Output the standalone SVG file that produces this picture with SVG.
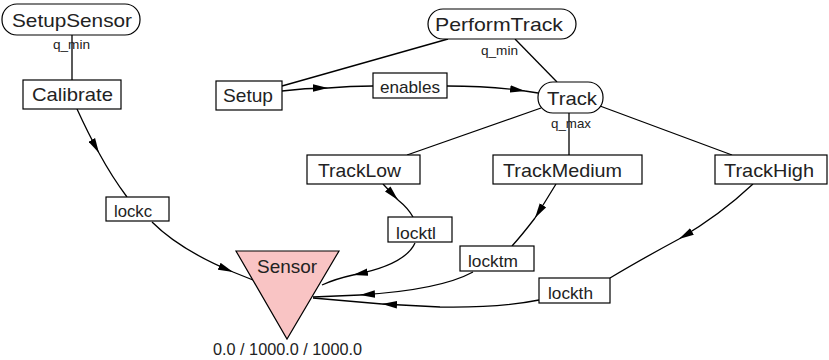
<svg xmlns="http://www.w3.org/2000/svg" width="829" height="360" viewBox="0 0 829 360">
<style>
.n{fill:#fff;stroke:#000;stroke-width:1.2}
.t{font-family:"Liberation Sans",Arial,sans-serif;font-size:19px;fill:#222}
.l{font-family:"Liberation Sans",Arial,sans-serif;font-size:17px;fill:#222}
.q{font-family:"Liberation Sans",Arial,sans-serif;font-size:13px;fill:#222}
.e{fill:none;stroke:#000;stroke-width:1.3}
</style>
<defs>
<marker id="ar" viewBox="0 0 16 8" markerUnits="userSpaceOnUse" markerWidth="15" markerHeight="8" refX="16" refY="4" orient="auto">
<path d="M0,0 L16,4 L0,8 z" fill="#000"/>
</marker>
</defs>
<rect width="829" height="360" fill="#fff"/>
<g id="connectors">
<path class="e" d="M72,35 L72,80"/>
<path class="e" d="M448,39 L282,86"/>
<path class="e" d="M515,39 L557,82"/>
<path class="e" d="M282,91 Q305,88 328,88" marker-end="url(#ar)"/>
<path class="e" d="M328,88 Q350,86 373,86"/>
<path class="e" d="M447,86 Q490,86 525,91" marker-end="url(#ar)"/>
<path class="e" d="M525,91 L538,93"/>
<path class="e" d="M541,108 L407,155"/>
<path class="e" d="M569,113 L569,155"/>
<path class="e" d="M600,106 L732,155"/>
<path class="e" d="M77,109 Q88,133 99,153" marker-end="url(#ar)"/>
<path class="e" d="M99,153 Q112,177 127,197"/>
<path class="e" d="M152,222 Q180,250 233,272" marker-end="url(#ar)"/>
<path class="e" d="M233,272 L253,280"/>
<path class="e" d="M383,184 L398,200" marker-end="url(#ar)"/>
<path class="e" d="M398,200 Q408,208 413,217"/>
<path class="e" d="M415,243 Q405,265 353,275" marker-end="url(#ar)"/>
<path class="e" d="M353,275 Q335,279 322,285"/>
<path class="e" d="M556,184 Q545,202 535,218" marker-end="url(#ar)"/>
<path class="e" d="M535,218 Q522,235 512,246"/>
<path class="e" d="M473,272 Q440,290 360,295" marker-end="url(#ar)"/>
<path class="e" d="M360,295 L313,297"/>
<path class="e" d="M753,184 Q720,215 679,239" marker-end="url(#ar)"/>
<path class="e" d="M679,239 Q640,260 610,278"/>
<path class="e" d="M539,300 Q500,308 440,307 L382,304" marker-end="url(#ar)"/>
<path class="e" d="M382,304 L313,298"/>
<text class="q" x="53" y="49" textLength="37" lengthAdjust="spacingAndGlyphs">q_min</text>
<text class="q" x="481" y="55" textLength="37" lengthAdjust="spacingAndGlyphs">q_min</text>
<text class="q" x="551" y="128" textLength="40" lengthAdjust="spacingAndGlyphs">q_max</text>
</g>
<g id="SetupSensor">
<rect class="n" x="2" y="4" width="138" height="31" rx="15"/>
<text class="t" x="12" y="27" textLength="120" lengthAdjust="spacingAndGlyphs">SetupSensor</text>
</g>
<g id="Calibrate">
<rect class="n" x="23" y="80" width="98" height="29"/>
<text class="t" x="32" y="101" textLength="81" lengthAdjust="spacingAndGlyphs">Calibrate</text>
</g>
<g id="Setup">
<rect class="n" x="216" y="81" width="66" height="29"/>
<text class="t" x="223" y="102" textLength="50" lengthAdjust="spacingAndGlyphs">Setup</text>
</g>
<g id="PerformTrack">
<rect class="n" x="428" y="9" width="148" height="30" rx="15"/>
<text class="t" x="435" y="31" textLength="128" lengthAdjust="spacingAndGlyphs">PerformTrack</text>
</g>
<g id="Track">
<rect class="n" x="538" y="82" width="65" height="31" rx="15"/>
<text class="t" x="547" y="105" textLength="50" lengthAdjust="spacingAndGlyphs">Track</text>
</g>
<g id="enables">
<rect class="n" x="373" y="73" width="74" height="25"/>
<text class="l" x="380" y="93" textLength="60" lengthAdjust="spacingAndGlyphs">enables</text>
</g>
<g id="TrackLow">
<rect class="n" x="307" y="155" width="113" height="29"/>
<text class="t" x="318" y="177" textLength="83" lengthAdjust="spacingAndGlyphs">TrackLow</text>
</g>
<g id="TrackMedium">
<rect class="n" x="493" y="155" width="149" height="29"/>
<text class="t" x="503" y="177" textLength="119" lengthAdjust="spacingAndGlyphs">TrackMedium</text>
</g>
<g id="TrackHigh">
<rect class="n" x="715" y="155" width="112" height="29"/>
<text class="t" x="724" y="177" textLength="90" lengthAdjust="spacingAndGlyphs">TrackHigh</text>
</g>
<g id="lockc">
<rect class="n" x="106" y="197" width="63" height="24"/>
<text class="l" x="114" y="217" textLength="38" lengthAdjust="spacingAndGlyphs">lockc</text>
</g>
<g id="locktl">
<rect class="n" x="388" y="217" width="64" height="25"/>
<text class="l" x="396" y="239" textLength="40" lengthAdjust="spacingAndGlyphs">locktl</text>
</g>
<g id="locktm">
<rect class="n" x="460" y="246" width="74" height="25"/>
<text class="l" x="468" y="267" textLength="50" lengthAdjust="spacingAndGlyphs">locktm</text>
</g>
<g id="lockth">
<rect class="n" x="539" y="278" width="71" height="25"/>
<text class="l" x="548" y="299" textLength="45" lengthAdjust="spacingAndGlyphs">lockth</text>
</g>
<g id="Sensor">
<polygon points="236,251 339,251 287,339" fill="#f9c4c4" stroke="#000" stroke-width="1.2"/>
<text class="t" x="257" y="273" textLength="60" lengthAdjust="spacingAndGlyphs">Sensor</text>
<text class="l" x="213" y="355" font-size="16" textLength="149" lengthAdjust="spacingAndGlyphs">0.0 / 1000.0 / 1000.0</text>
</g>
</svg>
